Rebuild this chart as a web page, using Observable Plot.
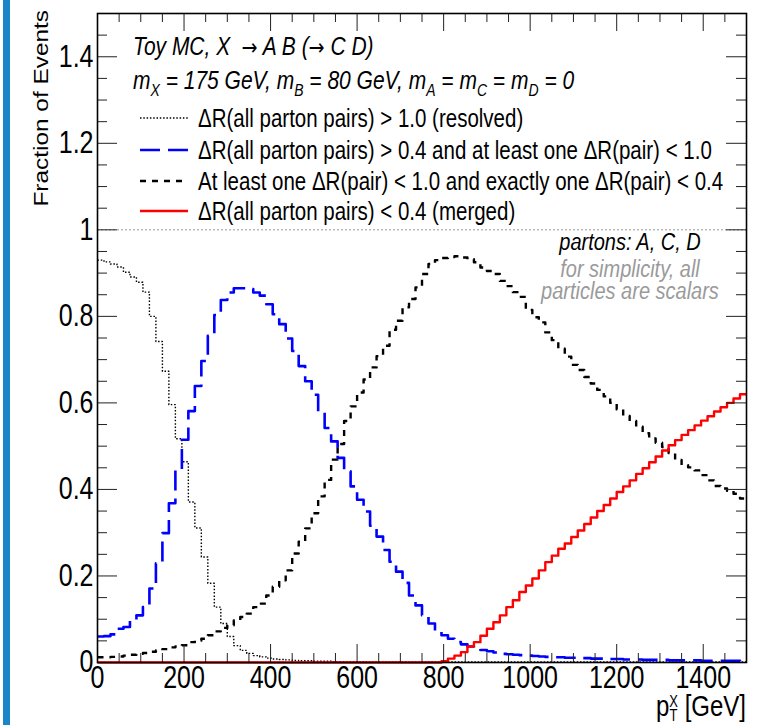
<!DOCTYPE html>
<html><head><meta charset="utf-8">
<script src="https://cdn.jsdelivr.net/npm/d3@7"></script>
<script src="https://cdn.jsdelivr.net/npm/@observablehq/plot@0.6"></script>
<style>
html,body{margin:0;padding:0;background:#fff;}
#wrap{position:relative;width:769px;height:725px;overflow:hidden;background:#fff;}
#stripe{position:absolute;left:3px;top:0;width:7px;height:725px;background:#1a86c9;}
#wrap svg{position:absolute;left:0;top:0;}
</style></head><body><div id="wrap"><div id="stripe"></div></div>
<script>
// ---- data (fraction of events per 15 GeV bin of pT^X, 0..1500 GeV) ----
const binWidth = 15;
const resolved = [
0.930,0.926,0.921,0.914,0.902,0.891,0.879,0.856,0.800,0.742,
0.673,0.596,0.517,0.464,0.371,0.311,0.244,0.183,0.128,0.090,
0.060,0.039,0.028,0.021,0.016,0.013,0.010,0.008,0.007,0.006,
0.005,0.004,0.004,0.003,0.003,0.003,0.002,0.002,0.002,0.002,
0.002,0.001,0.001,0.001,0.001,0.001,0.001,0.001,0.001,0.001,
0.001,0.001,0.001,0.001,0.001,0.001,0.001,0.001,0.001,0.001,
0.001,0.001,0.001,0.001,0.001,0.001,0.001,0.001,0.001,0.001,
0.001,0.001,0.001,0.001,0.001,0.001,0.001,0.001,0.001,0.001,
0.001,0.001,0.001,0.001,0.001,0.001,0.001,0.001,0.001,0.001,
0.001,0.001,0.001,0.001,0.001,0.001,0.001,0.001,0.001,0.001];
const partial = [
0.060,0.061,0.065,0.078,0.082,0.097,0.109,0.128,0.171,0.229,
0.299,0.368,0.445,0.515,0.581,0.639,0.697,0.755,0.803,0.838,
0.855,0.865,0.865,0.863,0.855,0.848,0.828,0.805,0.782,0.749,
0.720,0.685,0.650,0.619,0.578,0.542,0.511,0.473,0.442,0.407,
0.376,0.349,0.316,0.291,0.260,0.233,0.210,0.184,0.155,0.132,
0.109,0.090,0.074,0.063,0.055,0.047,0.042,0.037,0.034,0.029,
0.026,0.023,0.020,0.019,0.018,0.017,0.016,0.015,0.014,0.013,
0.012,0.012,0.011,0.011,0.010,0.010,0.009,0.009,0.008,0.008,
0.008,0.007,0.007,0.007,0.006,0.006,0.006,0.006,0.005,0.005,
0.005,0.005,0.005,0.004,0.004,0.004,0.004,0.004,0.004,0.003];
const onePair = [
0.012,0.012,0.013,0.014,0.016,0.018,0.020,0.022,0.025,0.028,
0.031,0.035,0.037,0.040,0.047,0.051,0.055,0.063,0.072,0.080,
0.086,0.097,0.105,0.113,0.128,0.136,0.155,0.175,0.190,0.213,
0.252,0.279,0.310,0.345,0.384,0.422,0.469,0.505,0.558,0.592,
0.624,0.654,0.682,0.708,0.732,0.769,0.790,0.821,0.840,0.867,
0.898,0.921,0.930,0.935,0.937,0.939,0.936,0.932,0.925,0.913,
0.905,0.898,0.882,0.870,0.856,0.845,0.815,0.798,0.786,0.763,
0.745,0.725,0.707,0.688,0.676,0.660,0.645,0.630,0.615,0.600,
0.585,0.570,0.558,0.545,0.530,0.518,0.508,0.498,0.484,0.468,
0.456,0.451,0.444,0.433,0.421,0.408,0.402,0.397,0.390,0.379];
const merged = [
0,0,0,0,0,0,0,0,0,0,
0,0,0,0,0,0,0,0,0,0,
0,0,0,0,0,0,0,0,0,0,
0,0,0,0,0,0,0,0,0,0,
0,0,0,0,0,0,0,0,0,0,
0,0,0,0.003,0.009,0.016,0.024,0.037,0.047,0.062,
0.078,0.093,0.109,0.128,0.144,0.163,0.178,0.194,0.213,0.232,
0.247,0.263,0.275,0.290,0.305,0.320,0.335,0.350,0.364,0.379,
0.394,0.407,0.421,0.436,0.449,0.463,0.476,0.490,0.502,0.514,
0.526,0.537,0.548,0.559,0.569,0.580,0.590,0.600,0.610,0.620];

const xMajor = [0,200,400,600,800,1000,1200,1400];
const xMinor = [50,100,150,250,300,350,450,500,550,650,700,750,850,900,950,1050,1100,1150,1250,1300,1350,1450,1500];
const yMajor = [0,0.2,0.4,0.6,0.8,1,1.2,1.4];
const yMinor = [0.05,0.1,0.15,0.25,0.3,0.35,0.45,0.5,0.55,0.65,0.7,0.75,0.85,0.9,0.95,1.05,1.1,1.15,1.25,1.3,1.35,1.45,1.5];

const legendLabels = [
  "\u0394R(all parton pairs) > 1.0 (resolved)",
  "\u0394R(all parton pairs) > 0.4 and at least one \u0394R(pair) < 1.0",
  "At least one \u0394R(pair) < 1.0 and exactly one \u0394R(pair) < 0.4",
  "\u0394R(all parton pairs) < 0.4 (merged)"
];
const styles = [
  {stroke:"#000", strokeWidth:1.4, dash:"1.5,1.8"},
  {stroke:"#0000ff", strokeWidth:2.6, dash:"20,8"},
  {stroke:"#000", strokeWidth:2.4, dash:"6,6"},
  {stroke:"#ff0000", strokeWidth:2.4, dash:null}
];
const seriesValues = [resolved, partial, onePair, merged];

// ---- layout ----
const W = 769, H = 725, mL = 97, mR = 23, mT = 13, mB = 63;
const FW = W - mL - mR, FH = H - mT - mB;
const S = 1.22; // vertical text stretch

function toRows(vals){
  const r = vals.map((v,i)=>({x:i*binWidth, y:v}));
  r.push({x:vals.length*binWidth, y:vals[vals.length-1]});
  return r;
}

const lineMarks = seriesValues.map((vals,k)=>Plot.line(toRows(vals), {
  x:"x", y:"y", curve:"step-after", stroke:styles[k].stroke,
  strokeWidth:styles[k].strokeWidth, strokeDasharray:styles[k].dash, strokeLinecap:"butt"
}));

const tickColor = "#222";
const plot = Plot.plot({
  width:W, height:H, marginLeft:mL, marginRight:mR, marginTop:mT, marginBottom:mB,
  x:{domain:[0,1500]}, y:{domain:[0,1.5]},
  style:{fontFamily:"Liberation Sans, Arial, sans-serif", fontSize:"25px", color:"#000", background:"transparent", overflow:"visible"},
  marks:[
    Plot.ruleY([1], {stroke:"#999", strokeDasharray:"2,2", strokeWidth:1}),
    ...lineMarks,
    Plot.tickX(xMinor, {x:d=>d, insetTop:FH-9, stroke:tickColor}),
    Plot.tickX(xMinor, {x:d=>d, insetBottom:FH-9, stroke:tickColor}),
    Plot.tickX(xMajor, {x:d=>d, insetTop:FH-18, stroke:tickColor}),
    Plot.tickX(xMajor, {x:d=>d, insetBottom:FH-18, stroke:tickColor}),
    Plot.tickY(yMinor, {y:d=>d, insetRight:FW-10, stroke:tickColor}),
    Plot.tickY(yMinor, {y:d=>d, insetLeft:FW-10, stroke:tickColor}),
    Plot.tickY(yMajor, {y:d=>d, insetRight:FW-20, stroke:tickColor}),
    Plot.tickY(yMajor, {y:d=>d, insetLeft:FW-20, stroke:tickColor}),
    Plot.axisX({ticks:xMajor, tickSize:0, tickPadding:4, tickFormat:d=>String(d), label:null, fontSize:25}),
    Plot.axisY({ticks:yMajor, tickSize:0, tickPadding:4, tickFormat:d=>String(d), label:null, fontSize:25}),
    Plot.frame({stroke:"#000", strokeWidth:1.6})
  ]
});
document.getElementById("wrap").appendChild(plot);

const svg = d3.select(plot);
svg.selectAll("g[aria-label='x-axis tick label'] text, g[aria-label='y-axis tick label'] text").each(function(){
  const t = this.getAttribute("transform") || "";
  this.setAttribute("transform", t + ` scale(1,${S})`);
});

const g = svg.append("g").attr("font-family","Liberation Sans, Arial, sans-serif")
  .attr("fill","#000").attr("text-anchor","start");
function txt(x, y, fs, o={}){
  const t = g.append("text").attr("transform",`translate(${x},${y}) scale(1,${S})`).attr("font-size",fs)
    .attr("text-anchor", o.anchor || "start");
  if (o.italic) t.attr("font-style","italic");
  if (o.fill) t.attr("fill",o.fill);
  return t;
}

// axis titles
g.append("text").attr("transform",`translate(48,10) rotate(-90) scale(${S},1)`)
  .attr("text-anchor","end").attr("font-size",20).text("Fraction of Events");
{
  const t = txt(746, 716, 24, {anchor:"end"});
  t.append("tspan").text("p");
  t.append("tspan").attr("font-size",13).attr("dy",4).text("T");
  t.append("tspan").attr("font-size",13).attr("dx",-8).attr("dy",-11).text("X");
  t.append("tspan").attr("dy",7).text(" [GeV]");
}

// header
{
  const parts = [["Toy MC, X  ",0],["\u2192",1],[" A B (",0],["\u2192",1],[" C D)",0]];
  const t = txt(133, 55, 21, {italic:true});
  parts.forEach(([s,arrow])=>{
    const sp = t.append("tspan").text(s);
    if (arrow) sp.attr("font-family","DejaVu Sans").attr("font-style","normal").attr("font-size",19);
  });
}
{
  const parts = [["m",0],["X",1],[" = 175 GeV, m",0],["B",1],[" = 80 GeV, m",0],["A",1],[" = m",0],["C",1],[" = m",0],["D",1],[" = 0",0]];
  const t = txt(133, 89, 21, {italic:true});
  let down = false;
  parts.forEach(([s,sub])=>{
    const sp = t.append("tspan").text(s);
    if (sub){ sp.attr("font-size",14).attr("dy", 6); down = true; }
    else if (down){ sp.attr("dy",-6); down = false; }
  });
}

// legend
const rowY = [118, 150, 181, 211];
legendLabels.forEach((lab,k)=>{
  const st = styles[k];
  g.append("line").attr("x1",140).attr("x2",188).attr("y1",rowY[k]).attr("y2",rowY[k])
    .attr("stroke",st.stroke).attr("stroke-width",st.strokeWidth).attr("stroke-dasharray",st.dash);
  txt(198, rowY[k] + 0.358*20.5*S, 20.5).text(lab);
});

// annotations
txt(630, 250, 20, {italic:true, anchor:"middle"}).text("partons: A, C, D");
txt(630, 277, 20, {italic:true, anchor:"middle", fill:"#9a9a9a"}).text("for simplicity, all");
txt(630, 299, 20, {italic:true, anchor:"middle", fill:"#9a9a9a"}).text("particles are scalars");
</script></body></html>
